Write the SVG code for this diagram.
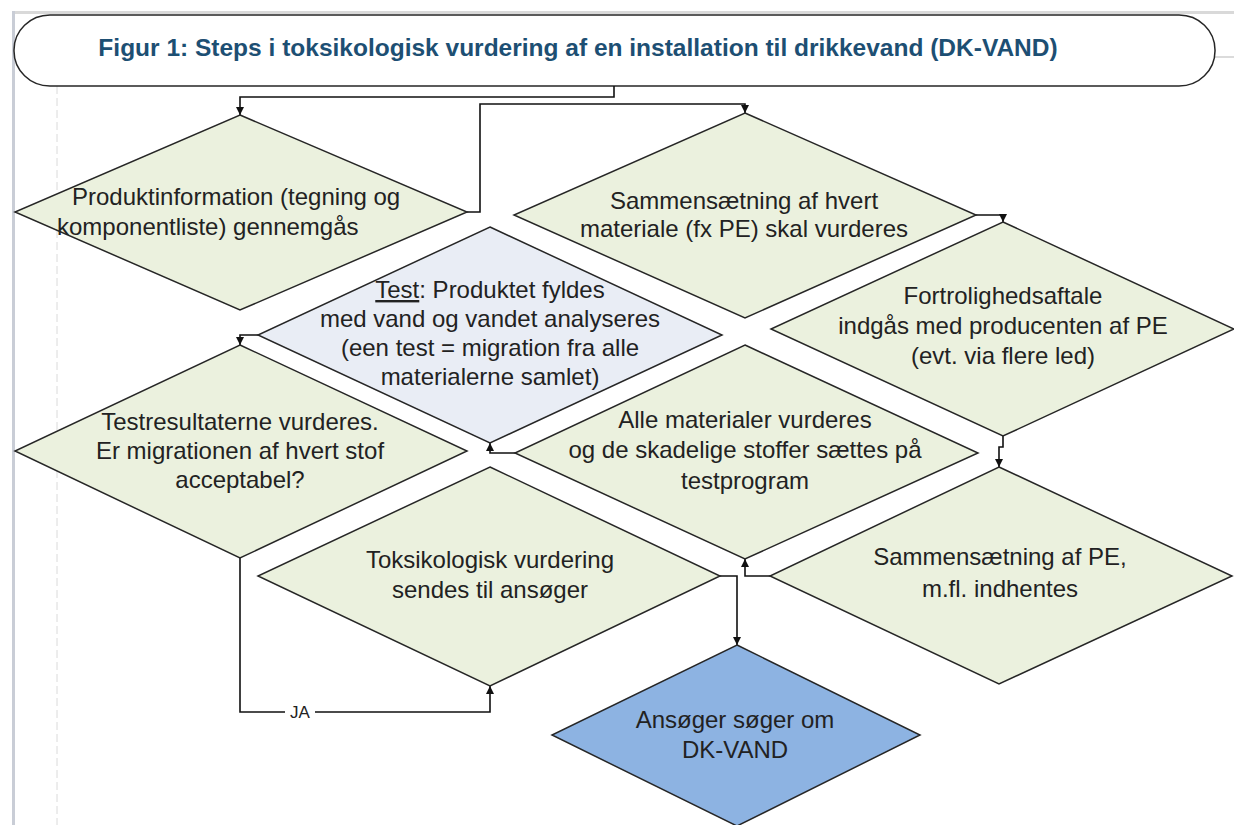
<svg xmlns="http://www.w3.org/2000/svg" width="1234" height="825" viewBox="0 0 1234 825">
  <defs>
    <marker id="arrow" viewBox="0 0 10 10" refX="10" refY="5" markerWidth="9" markerHeight="8" markerUnits="userSpaceOnUse" orient="auto">
      <path d="M0,0 L10,5 L0,10 Z" fill="#111"/>
    </marker>
    <style>
      .step { fill: #EBF1DE; stroke: #262626; stroke-width: 1.5; }
      .test { fill: #E9EDF5; stroke: #262626; stroke-width: 1.5; }
      .final { fill: #8DB3E2; stroke: #262626; stroke-width: 1.5; }
      .lbl { font-family: "Liberation Sans", Arial, sans-serif; font-size: 24px; fill: #222222; text-anchor: middle; }
      .lbl-start { text-anchor: start; }
      .title { font-family: "Liberation Sans", Arial, sans-serif; font-size: 24.5px; font-weight: bold; fill: #1D4F73; text-anchor: middle; }
      .conn { fill: none; stroke: #111; stroke-width: 1.6; marker-end: url(#arrow); }
      .small { font-family: "Liberation Sans", Arial, sans-serif; font-size: 17px; fill: #222222; text-anchor: middle; }
    </style>
  </defs>

  <!-- page background and drawing-sheet guides -->
  <rect x="0" y="0" width="1234" height="825" fill="#ffffff"/>
  <rect x="13" y="11" width="1221" height="3" fill="#d9d9d9"/>
  <rect x="12" y="11" width="3" height="814" fill="#c9cdd6"/>
  <line x1="57" y1="86" x2="57" y2="825" stroke="#dadada" stroke-width="1" stroke-dasharray="8 4"/>
  <line x1="1215" y1="57" x2="1234" y2="57" stroke="#cfcfcf" stroke-width="1.5"/>

  <!-- title terminator -->
  <g id="title">
    <rect x="14" y="15" width="1201" height="71" rx="36" ry="35" fill="#ffffff" stroke="#262626" stroke-width="1.5"/>
    <text class="title" x="578" y="56">Figur 1: Steps i toksikologisk vurdering af en installation til drikkevand (DK-VAND)</text>
  </g>

  <!-- connectors -->
  <g id="connectors">
    <polyline class="conn" points="614,86 614,97 240,97 240,115"/>
    <polyline class="conn" points="467,212 480,212 480,104 745,104 745,113"/>
    <polyline class="conn" points="976,215 1003,215 1003,222"/>
    <polyline class="conn" points="1003,436 1003,447 999,447 999,467"/>
    <polyline class="conn" points="770,576 745,576 745,559"/>
    <polyline class="conn" points="515,453 490,453 490,443"/>
    <polyline class="conn" points="258,335 240,335 240,345"/>
    <polyline class="conn" points="240,558 240,712 490,712 490,686"/>
    <polyline class="conn" points="720,576 737,576 737,645"/>
    <rect x="285" y="700" width="30" height="16" fill="#ffffff"/>
    <text class="small" x="300" y="718">JA</text>
  </g>

  <g id="produktinformation">
    <polygon class="step" points="240,115 467,212 240,310 15,212"/>
    <text class="lbl lbl-start" x="72" y="205">Produktinformation (tegning og</text>
    <text class="lbl lbl-start" x="57" y="235">komponentliste) gennemgås</text>
  </g>

  <g id="sammensaetning-materiale">
    <polygon class="step" points="745,113 976,215 745,318 514,215"/>
    <text class="lbl" x="744" y="209">Sammensætning af hvert</text>
    <text class="lbl" x="744" y="237">materiale (fx PE) skal vurderes</text>
  </g>

  <g id="fortrolighedsaftale">
    <polygon class="step" points="1003,222 1234,329 1003,436 771,329"/>
    <text class="lbl" x="1003" y="304">Fortrolighedsaftale</text>
    <text class="lbl" x="1003" y="334">indgås med producenten af PE</text>
    <text class="lbl" x="1003" y="364">(evt. via flere led)</text>
  </g>

  <g id="test">
    <polygon class="test" points="490,227 722,335 490,443 258,335"/>
    <text class="lbl" x="490" y="298"><tspan text-decoration="underline">Test</tspan>: Produktet fyldes</text>
    <text class="lbl" x="490" y="327">med vand og vandet analyseres</text>
    <text class="lbl" x="490" y="356">(een test = migration fra alle</text>
    <text class="lbl" x="490" y="385">materialerne samlet)</text>
  </g>

  <g id="testresultater">
    <polygon class="step" points="240,345 467,451 240,558 15,451"/>
    <text class="lbl" x="240" y="430">Testresultaterne vurderes.</text>
    <text class="lbl" x="240" y="459">Er migrationen af hvert stof</text>
    <text class="lbl" x="240" y="488">acceptabel?</text>
  </g>

  <g id="alle-materialer">
    <polygon class="step" points="745,345 978,453 745,559 515,453"/>
    <text class="lbl" x="745" y="428">Alle materialer vurderes</text>
    <text class="lbl" x="745" y="458">og de skadelige stoffer sættes på</text>
    <text class="lbl" x="745" y="489">testprogram</text>
  </g>

  <g id="sammensaetning-pe">
    <polygon class="step" points="999,467 1232,576 999,684 770,576"/>
    <text class="lbl" x="1000" y="565">Sammensætning af PE,</text>
    <text class="lbl" x="1000" y="597">m.fl. indhentes</text>
  </g>

  <g id="toksikologisk-vurdering">
    <polygon class="step" points="490,467 720,576 490,686 258,576"/>
    <text class="lbl" x="490" y="568">Toksikologisk vurdering</text>
    <text class="lbl" x="490" y="598">sendes til ansøger</text>
  </g>

  <g id="ansoeger">
    <polygon class="final" points="737,645 920,735 737,826 552,735"/>
    <text class="lbl" x="735" y="728">Ansøger søger om</text>
    <text class="lbl" x="735" y="758">DK-VAND</text>
  </g>
</svg>
